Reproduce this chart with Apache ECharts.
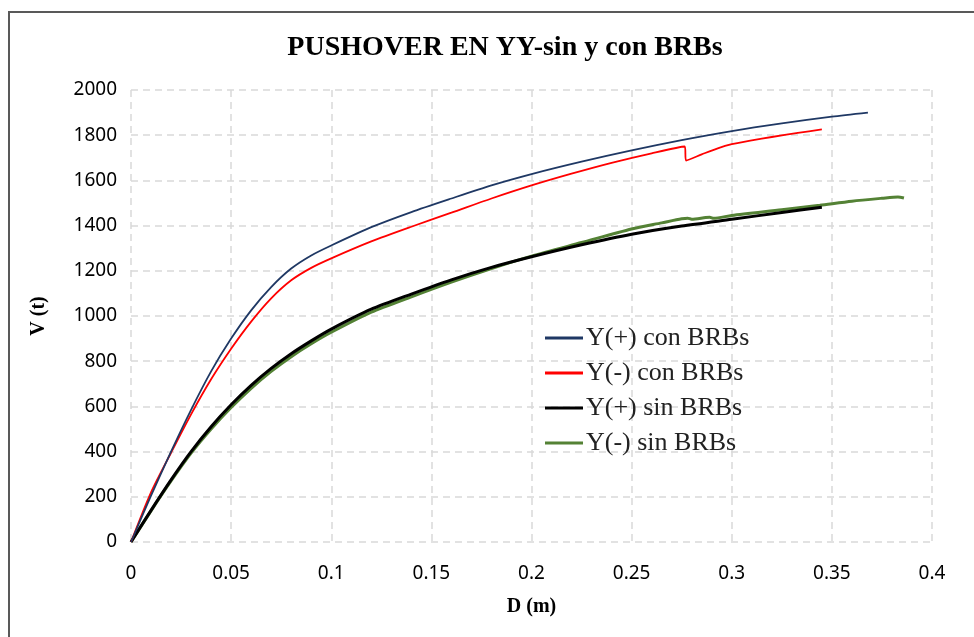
<!DOCTYPE html>
<html>
<head>
<meta charset="utf-8">
<script src="https://cdn.jsdelivr.net/npm/echarts@6/dist/echarts.min.js"></script>
<style>
  html, body { margin: 0; padding: 0; background: #fff; }
  #chart { width: 974px; height: 637px; }
</style>
</head>
<body>
<div id="chart"></div>
<script>
// pushover curves, D in m, V in t
const seriesNames = ["Y(+) con BRBs", "Y(-) con BRBs", "Y(+) sin BRBs", "Y(-) sin BRBs"];

const dPlusCon = [0, 0.01, 0.02, 0.03, 0.04, 0.05, 0.06, 0.07, 0.08, 0.09, 0.1, 0.12, 0.14, 0.16, 0.18, 0.2, 0.225, 0.25, 0.275, 0.3, 0.325, 0.35, 0.368];
const vPlusCon = [0, 205, 400, 585, 755, 900, 1025, 1128, 1210, 1268, 1312, 1393, 1460, 1520, 1578, 1628, 1683, 1733, 1778, 1818, 1852, 1882, 1900];

const dMinusCon = [0, 0.01, 0.02, 0.03, 0.04, 0.05, 0.06, 0.07, 0.08, 0.09, 0.1, 0.12, 0.14, 0.16, 0.18, 0.2, 0.22, 0.24, 0.26, 0.2765, 0.2772, 0.285, 0.293, 0.3, 0.31, 0.32, 0.333, 0.345];
const vMinusCon = [0, 220, 395, 565, 720, 855, 975, 1078, 1158, 1213, 1255, 1330, 1395, 1457, 1520, 1578, 1630, 1678, 1720, 1750, 1688, 1715, 1742, 1760, 1777, 1792, 1810, 1826];

const dPlusSin = [0, 0.01, 0.02, 0.03, 0.04, 0.05, 0.06, 0.07, 0.08, 0.09, 0.1, 0.12, 0.14, 0.16, 0.18, 0.2, 0.225, 0.25, 0.275, 0.3, 0.325, 0.345];
const vPlusSin = [0, 140, 275, 400, 510, 607, 693, 768, 833, 890, 942, 1030, 1097, 1160, 1215, 1262, 1315, 1362, 1398, 1428, 1458, 1481];

const dMinusSin = [0, 0.01, 0.02, 0.03, 0.04, 0.05, 0.06, 0.07, 0.08, 0.09, 0.1, 0.12, 0.14, 0.16, 0.18, 0.2, 0.225, 0.25, 0.265, 0.275, 0.278, 0.28, 0.287, 0.289, 0.291, 0.3, 0.325, 0.344, 0.36, 0.375, 0.383, 0.386];
const vMinusSin = [0, 138, 270, 393, 500, 595, 680, 755, 820, 877, 928, 1017, 1085, 1150, 1210, 1265, 1325, 1385, 1412, 1430, 1433, 1428, 1436, 1437, 1432, 1445, 1470, 1490, 1508, 1521, 1527, 1522];

const xTicks = [0, 0.05, 0.1, 0.15, 0.2, 0.25, 0.3, 0.35, 0.4];
const yTicks = [0, 200, 400, 600, 800, 1000, 1200, 1400, 1600, 1800, 2000];

const colors = ["#1f3864", "#ff0000", "#000000", "#548235"];
const widths = [1.8, 1.8, 3, 3];

const pairs = (xs, ys) => xs.map((x, i) => [x, ys[i]]);
const curves = [
  pairs(dPlusCon, vPlusCon),
  pairs(dMinusCon, vMinusCon),
  pairs(dPlusSin, vPlusSin),
  pairs(dMinusSin, vMinusSin),
];

const chart = echarts.init(document.getElementById("chart"));
const gridLine = { show: true, lineStyle: { color: "#d9d9d9", width: 1.5, type: [7, 5] } };
const tickFont = { fontFamily: "Noto Sans, sans-serif", fontSize: 19, color: "#000" };
const boldSerif = { fontFamily: "Liberation Serif, Times New Roman, serif", fontWeight: "bold", color: "#000" };

chart.setOption({
  backgroundColor: "#fff",
  animation: false,
  title: {
    text: "PUSHOVER EN YY-sin y con BRBs",
    left: 500,
    textAlign: "center",
    top: 29,
    textStyle: { ...boldSerif, fontSize: 28 },
  },
  graphic: [{
    type: "rect",
    shape: { x: 9, y: 12, width: 2000, height: 2000 },
    style: { fill: "none", stroke: "#595959", lineWidth: 2 },
    silent: true,
  }],
  legend: {
    orient: "vertical",
    left: 540,
    top: 320,
    icon: "rect",
    itemWidth: 38,
    itemHeight: 3,
    itemGap: 9,
    data: seriesNames,
    textStyle: { fontFamily: "Liberation Serif, Times New Roman, serif", fontSize: 26, color: "#222", padding: [0, 0, 0, -2] },
  },
  grid: { left: 131, right: 42, top: 90, bottom: 95 },
  xAxis: {
    type: "value",
    min: xTicks[0],
    max: xTicks[xTicks.length - 1],
    interval: 0.05,
    name: "D (m)",
    nameLocation: "middle",
    nameGap: 55,
    nameTextStyle: { ...boldSerif, fontSize: 20 },
    axisLine: { show: false },
    axisTick: { show: false },
    axisLabel: { ...tickFont, margin: 22, formatter: v => String(+v.toFixed(2)) },
    splitLine: gridLine,
  },
  yAxis: {
    type: "value",
    min: yTicks[0],
    max: yTicks[yTicks.length - 1],
    interval: 200,
    name: "V (t)",
    nameLocation: "middle",
    nameGap: 82,
    nameTextStyle: { ...boldSerif, fontSize: 20 },
    axisLine: { show: false },
    axisTick: { show: false },
    axisLabel: { ...tickFont, margin: 14, formatter: v => String(v) },
    splitLine: gridLine,
  },
  series: curves.map((data, i) => ({
    name: seriesNames[i],
    type: "line",
    data,
    symbol: "none",
    smooth: 0.25,
    color: colors[i],
    lineStyle: { color: colors[i], width: widths[i] },
    z: 10 - i,
  })),
});
</script>
</body>
</html>
